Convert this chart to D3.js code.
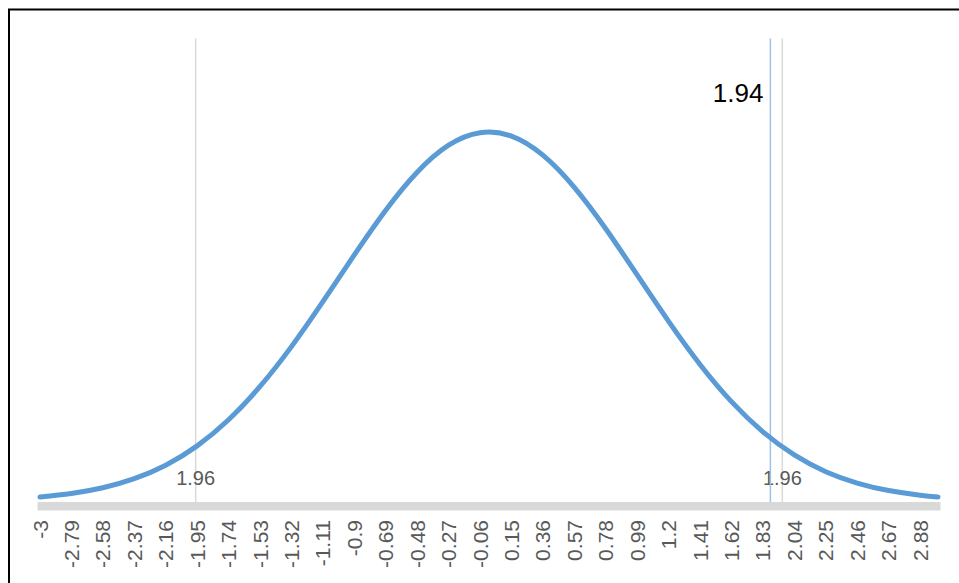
<!DOCTYPE html>
<html>
<head>
<meta charset="utf-8">
<script src="https://cdn.jsdelivr.net/npm/d3@7"></script>
<style>
  body { margin: 0; background: #fff; }
  svg { display: block; }
</style>
</head>
<body>
<script>
// z values (category labels shown every 7th point) and the density
const zValues = [-3, -2.79, -2.58, -2.37, -2.16, -1.95, -1.74, -1.53, -1.32, -1.11, -0.9, -0.69, -0.48, -0.27, -0.06,
                 0.15, 0.36, 0.57, 0.78, 0.99, 1.2, 1.41, 1.62, 1.83, 2.04, 2.25, 2.46, 2.67, 2.88, 3];
const density = [0.0044, 0.0082, 0.0143, 0.0241, 0.0387, 0.0596, 0.0878, 0.1238, 0.1669, 0.2155, 0.2661, 0.3144, 0.3555, 0.3847, 0.3982,
                 0.3945, 0.3739, 0.3391, 0.2943, 0.2444, 0.1942, 0.1476, 0.1074, 0.0748, 0.0498, 0.0317, 0.0194, 0.0113, 0.0063, 0.0044];
const tickLabels = zValues.slice(0, 29);
const criticalLines = [-1.96, 1.96];
const criticalText = ['1.96', '1.96'];
const testStat = 1.88;
const testText = '1.94';

const W = 959, H = 583;
const FONT = 'Liberation Sans, Arial, sans-serif';
const svg = d3.select('body').append('svg').attr('width', W).attr('height', H);

const x = d3.scaleLinear().domain([-3, 3]).range([40, 938]);
const y = d3.scaleLinear().domain([0, 0.5]).range([501, 38.5]);

// frame (top + left edge of the chart area)
svg.append('path')
    .attr('d', 'M9,583 V9.5 H959')
    .attr('fill', 'none')
    .attr('stroke', '#000')
    .attr('stroke-width', 2);

// axis band
svg.append('rect')
    .attr('x', x(-3) - 2.5).attr('y', 502)
    .attr('width', x(3) - x(-3) + 5).attr('height', 8.5)
    .attr('fill', '#d9d9d9');

// critical value lines
svg.selectAll('line.crit')
    .data(criticalLines).enter()
    .append('line')
      .attr('class', 'crit')
      .attr('x1', d => x(d)).attr('x2', d => x(d))
      .attr('y1', y(0.5)).attr('y2', 502)
      .attr('stroke', '#d9d9d9')
      .attr('stroke-width', 1.5);

svg.selectAll('text.crit')
    .data(criticalLines).enter()
    .append('text')
      .attr('class', 'crit')
      .attr('x', d => x(d)).attr('y', 485)
      .attr('text-anchor', 'middle')
      .attr('font-family', FONT)
      .attr('font-size', 20)
      .attr('fill', '#595959')
      .text((d, i) => criticalText[i]);

// test statistic line
svg.append('line')
    .attr('x1', x(testStat)).attr('x2', x(testStat))
    .attr('y1', y(0.5)).attr('y2', 502)
    .attr('stroke', '#9dc3e6')
    .attr('stroke-width', 1.5);

svg.append('text')
    .attr('x', x(testStat) - 7).attr('y', 102)
    .attr('text-anchor', 'end')
    .attr('font-family', FONT)
    .attr('font-size', 26)
    .attr('fill', '#000')
    .text(testText);

// the curve
const pts = zValues.map((z, i) => [z, density[i]]);
svg.append('path')
    .datum(pts)
    .attr('fill', 'none')
    .attr('stroke', '#5b9bd5')
    .attr('stroke-width', 5)
    .attr('stroke-linecap', 'round')
    .attr('d', d3.line().x(d => x(d[0])).y(d => y(d[1])).curve(d3.curveNatural));

// rotated tick labels
svg.selectAll('text.tick')
    .data(tickLabels).enter()
    .append('text')
      .attr('class', 'tick')
      .attr('transform', d => `translate(${x(d) + 7.5},520) rotate(-90)`)
      .attr('text-anchor', 'end')
      .attr('font-family', FONT)
      .attr('font-size', 21)
      .attr('fill', '#595959')
      .text(d => d);
</script>
</body>
</html>
